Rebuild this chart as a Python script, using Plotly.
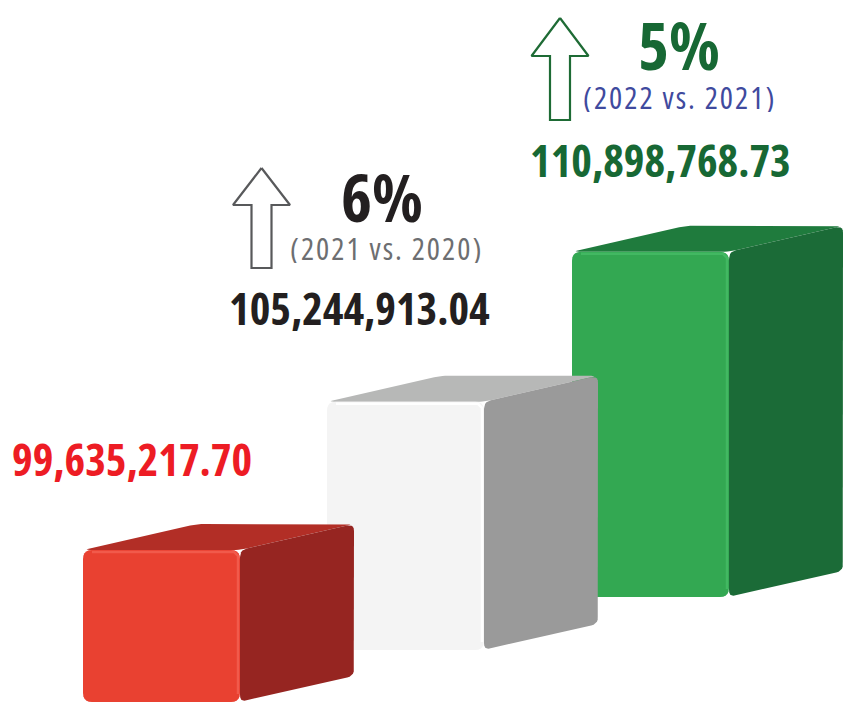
import numpy as np
import plotly.graph_objects as go

# ---------------- data ----------------
years = ["2020", "2021", "2022"]
totals = [99635217.70, 105244913.04, 110898768.73]
comparison_labels = ["", "(2021 vs. 2020)", "(2022 vs. 2021)"]

total_labels = [f"{v:,.2f}" for v in totals]
change_labels = [""] + [f"{round((totals[i] / totals[i - 1] - 1) * 100)}%" for i in range(1, len(totals))]

# ---------------- styling / layout constants ----------------
W, H = 844, 704
VALUE_FLOOR = 90.77e6          # value at which a box would have zero height
PX_PER_UNIT = 17.15e-6         # pixels per currency unit
FRONT_LEFT = [83, 327, 572]
BASELINE = [702, 650, 597]
FRONT_W = 157
DX, DY = 114, -26

FRONT_C = ["#E94131", "#F4F4F4", "#33A852"]
TOP_C = ["#B22E26", "#B7B8B7", "#1F7B3D"]
SIDE_C = ["#962521", "#9A9A9A", "#1B6B37"]
EDGE_C = ["#F15A4B", "#FFFFFF", "#42B862"]
TOTAL_C = ["#ED1C24", "#231F20", "#176834"]
CHANGE_C = ["", "#231F20", "#176834"]
COMP_C = ["", "#6D6E71", "#3F4A9E"]
ARROW_C = ["", "#58595B", "#1E6B35"]

TOTAL_POS = [(132, 459), (359, 308), (660, 160)]
CHANGE_POS = [None, (382, 196), (679, 44)]
COMP_POS = [None, (386, 248), (679, 97)]
ARROW_GEOM = [None, (261.5, 168, 205, 268), (560, 18, 56, 120)]  # cx, tip, head base, bottom

FONT = "Open Sans, Roboto, sans-serif"


def cond(t, spacing=0):
    extra = f";letter-spacing:{spacing}px" if spacing else ""
    return f'<span style="font-stretch:condensed{extra}">{t}</span>'


def rounded_poly(pts, r, n=6):
    """Polygon with rounded corners (pts in pixel coords)."""
    pts = np.asarray(pts, float)
    out = []
    m = len(pts)
    for i in range(m):
        p0, p1, p2 = pts[i - 1], pts[i], pts[(i + 1) % m]
        v1 = (p0 - p1) / np.linalg.norm(p0 - p1)
        v2 = (p2 - p1) / np.linalg.norm(p2 - p1)
        a = p1 + v1 * r
        b = p1 + v2 * r
        for t in np.linspace(0, 1, n):
            q = (1 - t) ** 2 * a + 2 * (1 - t) * t * p1 + t ** 2 * b
            out.append(q)
    out.append(out[0])
    out = np.array(out)
    return out[:, 0], out[:, 1]


fig = go.Figure()

order = [2, 1, 0]  # back to front
for i in order:
    h = (totals[i] - VALUE_FLOOR) * PX_PER_UNIT
    x0 = FRONT_LEFT[i]
    x1 = x0 + FRONT_W
    yb = BASELINE[i]
    yt = yb - h
    # top face
    top = [(x0, yt), (x0 + DX, yt + DY), (x1 + DX, yt + DY), (x1, yt)]
    xs, ys = rounded_poly(top, 7)
    fig.add_trace(go.Scatter(x=xs, y=ys, fill="toself", fillcolor=TOP_C[i], mode="lines",
                             line=dict(width=0, color=TOP_C[i]), hoverinfo="skip", showlegend=False))
    # side face
    side = [(x1, yt), (x1 + DX, yt + DY), (x1 + DX, yb + DY), (x1, yb)]
    xs, ys = rounded_poly(side, 7)
    fig.add_trace(go.Scatter(x=xs, y=ys, fill="toself", fillcolor=SIDE_C[i], mode="lines",
                             line=dict(width=0, color=SIDE_C[i]), hoverinfo="skip", showlegend=False))
    # front face
    front = [(x0, yt), (x1, yt), (x1, yb), (x0, yb)]
    xs, ys = rounded_poly(front, 9)
    fig.add_trace(go.Scatter(x=xs, y=ys, fill="toself", fillcolor=FRONT_C[i], mode="lines",
                             line=dict(width=0, color=FRONT_C[i]), hoverinfo="skip", showlegend=False))
    # bevel highlight along the top and right front edges
    fig.add_trace(go.Scatter(x=[x0 + 9, x1 - 6, x1 - 2, x1 - 2], y=[yt + 2, yt + 2, yt + 6, yb - 8],
                             mode="lines", line=dict(width=2.5, color=EDGE_C[i]),
                             hoverinfo="skip", showlegend=False))

# arrows
for i in range(1, 3):
    cx, tip, hb, bot = ARROW_GEOM[i]
    hw, sw = 28.5, 10
    ax = [cx, cx + hw, cx + sw, cx + sw, cx - sw, cx - sw, cx - hw, cx]
    ay = [tip, hb, hb, bot, bot, hb, hb, tip]
    fig.add_trace(go.Scatter(x=ax, y=ay, mode="lines", line=dict(width=2.2, color=ARROW_C[i]),
                             fill="toself", fillcolor="white", hoverinfo="skip", showlegend=False))

# texts
for i in range(3):
    x, y = TOTAL_POS[i]
    fig.add_annotation(x=x, y=y, text=cond(total_labels[i]), showarrow=False,
                       xanchor="center", yanchor="middle",
                       font=dict(family=FONT, size=44, color=TOTAL_C[i], weight=700))
    if change_labels[i]:
        x, y = CHANGE_POS[i]
        fig.add_annotation(x=x, y=y, text=cond(change_labels[i]), showarrow=False,
                           xanchor="center", yanchor="middle", height=56,
                           font=dict(family=FONT, size=66, color=CHANGE_C[i], weight=700))
        x, y = COMP_POS[i]
        fig.add_annotation(x=x, y=y, text=cond(comparison_labels[i], 2), showarrow=False,
                           xanchor="center", yanchor="middle", height=30,
                           font=dict(family=FONT, size=31, color=COMP_C[i], weight=500))

fig.update_xaxes(range=[0, W], visible=False, fixedrange=True)
fig.update_yaxes(range=[H, 0], visible=False, fixedrange=True)
fig.update_layout(width=W, height=H, margin=dict(l=0, r=0, t=0, b=0),
                  paper_bgcolor="white", plot_bgcolor="white", showlegend=False)

fig.write_html("out.html", post_script="document.body.style.margin='0px';",
               config={"displayModeBar": False})
